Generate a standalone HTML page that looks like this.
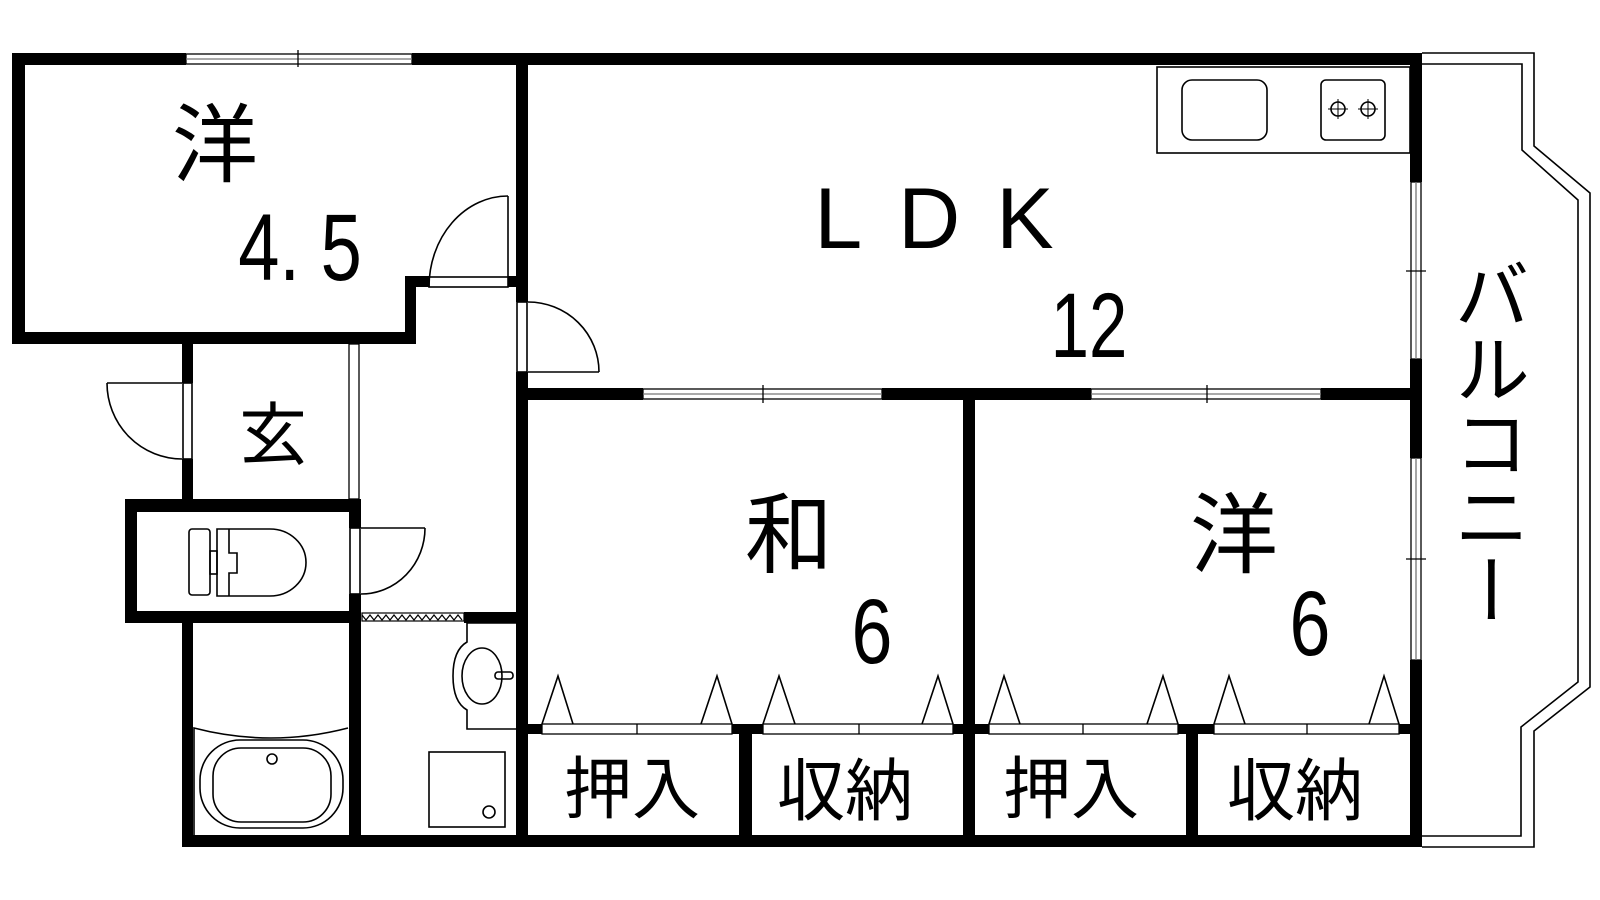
<!DOCTYPE html>
<html><head><meta charset="utf-8">
<style>
html,body{margin:0;padding:0;background:#fff;}
svg{display:block;}
text{font-family:"Liberation Sans","Noto Sans CJK JP",sans-serif;fill:#000;}
.j{font-family:"Noto Sans CJK JP","Liberation Sans",sans-serif;}
</style></head>
<body>
<svg width="1600" height="900" viewBox="0 0 1600 900" xmlns="http://www.w3.org/2000/svg">
<rect width="1600" height="900" fill="#fff"/>
<g fill="none" stroke="#000" stroke-width="1.6">
<polyline points="1422,53 1534,53 1534,146 1590,193 1590,687 1534,731 1534,847 1422,847"/>
<polyline points="1422,64 1522,64 1522,150 1578,200 1578,682 1521,727 1521,836 1422,836"/>
</g>
<g fill="#fff" stroke="#000" stroke-width="1.3">
<rect x="186" y="54" width="226" height="10"/>
<line x1="186" y1="59" x2="412" y2="59" stroke="#777"/>
<line x1="298" y1="50" x2="298" y2="67"/>
<rect x="643" y="389" width="239" height="10"/>
<line x1="643" y1="394" x2="882" y2="394" stroke="#777"/>
<line x1="763" y1="385" x2="763" y2="403"/>
<rect x="1091" y="389" width="230" height="10"/>
<line x1="1091" y1="394" x2="1321" y2="394" stroke="#777"/>
<line x1="1207" y1="385" x2="1207" y2="403"/>
<rect x="1411" y="182" width="10" height="177"/>
<line x1="1416" y1="182" x2="1416" y2="359" stroke="#777"/>
<line x1="1406" y1="271" x2="1426" y2="271"/>
<rect x="1411" y="458" width="10" height="202"/>
<line x1="1416" y1="458" x2="1416" y2="660" stroke="#777"/>
<line x1="1406" y1="559" x2="1426" y2="559"/>
<rect x="349" y="344" width="10" height="155"/>
</g>
<g fill="#000">
<rect x="12" y="53" width="174" height="12"/>
<rect x="412" y="53" width="1010" height="12"/>
<rect x="12" y="53" width="13" height="291"/>
<rect x="12" y="332" width="404" height="12"/>
<rect x="405" y="276" width="11" height="68"/>
<rect x="405" y="276" width="24" height="11"/>
<rect x="508" y="276" width="20" height="11"/>
<rect x="516" y="53" width="12" height="249"/>
<rect x="516" y="372" width="12" height="475"/>
<rect x="516" y="388" width="127" height="12"/>
<rect x="882" y="388" width="209" height="12"/>
<rect x="1321" y="388" width="101" height="12"/>
<rect x="963" y="388" width="12" height="459"/>
<rect x="1410" y="53" width="12" height="129"/>
<rect x="1410" y="359" width="12" height="99"/>
<rect x="1410" y="660" width="12" height="187"/>
<rect x="182" y="344" width="11" height="39"/>
<rect x="182" y="459" width="11" height="40"/>
<rect x="125" y="499" width="236" height="13"/>
<rect x="125" y="499" width="12" height="124"/>
<rect x="125" y="611" width="236" height="12"/>
<rect x="349" y="499" width="12" height="29"/>
<rect x="349" y="594" width="12" height="29"/>
<rect x="182" y="611" width="11" height="236"/>
<rect x="349" y="611" width="12" height="236"/>
<rect x="464" y="612" width="64" height="11"/>
<rect x="182" y="835" width="1240" height="12"/>
<rect x="528" y="724" width="14" height="10"/>
<rect x="732" y="724" width="31" height="10"/>
<rect x="953" y="724" width="36" height="10"/>
<rect x="1178" y="724" width="36" height="10"/>
<rect x="1399" y="724" width="11" height="10"/>
<rect x="739" y="724" width="13" height="123"/>
<rect x="1186" y="724" width="12" height="123"/>
</g>
<g fill="none" stroke="#000" stroke-width="1.6">
<rect x="429" y="277" width="79" height="10"/>
<line x1="508" y1="277" x2="508" y2="196"/>
<path d="M508,196 A79,91 0 0 0 429,287"/>
<rect x="517" y="302" width="10" height="70"/>
<line x1="528" y1="372" x2="599" y2="372"/>
<path d="M599,372 A71,70 0 0 0 528,302"/>
<rect x="183" y="383" width="9" height="76"/>
<line x1="182" y1="383" x2="107" y2="383"/>
<path d="M107,383 A75,76 0 0 0 182,459"/>
<rect x="350" y="528" width="10" height="66"/>
<line x1="361" y1="528" x2="425" y2="528"/>
<path d="M425,528 A64,66 0 0 1 361,594"/>
<rect x="189" y="529" width="21" height="66" rx="3"/>
<rect x="210" y="551" width="7" height="23"/>
<path d="M217,529 H270 A36,33.5 0 0 1 270,596 H217 Z"/>
<path d="M229,529 V553 H237 V573 H229 V596"/>
<rect x="362" y="613" width="102" height="8" stroke-width="1.2"/>
<polyline stroke-width="1.2" points="362,615 366,620 370,615 374,620 378,615 382,620 386,615 390,620 394,615 398,620 402,615 406,620 410,615 414,620 418,615 422,620 426,615 430,620 434,615 438,620 442,615 446,620 450,615 454,620 458,615 462,620"/>
<path d="M194,835 V728 Q271,748 348,728"/>
<rect x="200" y="740" width="143" height="88" rx="40"/>
<rect x="213" y="748" width="118" height="74" rx="28"/>
<circle cx="272" cy="759" r="5"/>
<path d="M516,623 H467 V642 Q453,650 453,676 Q453,702 467,710 V729 H516"/>
<ellipse cx="482" cy="676" rx="20" ry="28"/>
<rect x="495" y="672" width="18" height="7" rx="3"/>
<rect x="429" y="752" width="76" height="75"/>
<circle cx="489" cy="812" r="6"/>
<rect x="1157" y="67" width="253" height="86"/>
<rect x="1182" y="80" width="85" height="60" rx="10"/>
<rect x="1321" y="80" width="64" height="60" rx="5"/>
<circle cx="1338" cy="109" r="7"/>
<circle cx="1368" cy="109" r="7"/>
<path d="M1328,109h20M1338,99v20M1358,109h20M1368,99v20" stroke-width="1"/>
<rect x="542" y="724" width="190" height="10" stroke-width="1.3"/>
<line x1="637" y1="724" x2="637" y2="734" stroke-width="1.3"/>
<rect x="763" y="724" width="190" height="10" stroke-width="1.3"/>
<line x1="859" y1="724" x2="859" y2="734" stroke-width="1.3"/>
<rect x="989" y="724" width="189" height="10" stroke-width="1.3"/>
<line x1="1083" y1="724" x2="1083" y2="734" stroke-width="1.3"/>
<rect x="1214" y="724" width="185" height="10" stroke-width="1.3"/>
<line x1="1307" y1="724" x2="1307" y2="734" stroke-width="1.3"/>
<polyline points="542,724 558,676 573,724"/>
<polyline points="701,724 717,676 732,724"/>
<polyline points="763,724 779,676 795,724"/>
<polyline points="922,724 938,676 953,724"/>
<polyline points="989,724 1004,676 1020,724"/>
<polyline points="1147,724 1163,676 1178,724"/>
<polyline points="1214,724 1229,676 1245,724"/>
<polyline points="1369,724 1384,676 1399,724"/>
</g>
<g class="j" text-anchor="middle">
<text class="j" x="215" y="175" font-size="86">洋</text>
<text x="0" y="0" font-size="95" transform="translate(300,280) scale(0.78,1)">4. 5</text>
<text x="952" y="248" font-size="86" letter-spacing="36">LDK</text>
<text x="0" y="0" font-size="92" transform="translate(1089,357) scale(0.75,1)">12</text>
<text class="j" x="273" y="459" font-size="68">玄</text>
<text class="j" x="789" y="566" font-size="88">和</text>
<text x="0" y="0" font-size="92" transform="translate(872,663) scale(0.8,1)">6</text>
<text class="j" x="1234" y="566" font-size="88">洋</text>
<text x="0" y="0" font-size="92" transform="translate(1310,655) scale(0.8,1)">6</text>
<text class="j" x="632" y="813" font-size="68">押入</text>
<text class="j" x="845" y="815" font-size="68">収納</text>
<text class="j" x="1071" y="813" font-size="68">押入</text>
<text class="j" x="1295" y="815" font-size="68">収納</text>
</g>
</svg>
<div style="position:absolute;left:1452px;top:256px;writing-mode:vertical-rl;font-family:'Noto Sans CJK JP',sans-serif;font-size:76px;line-height:80px;letter-spacing:-2px;">バルコニー</div>
</body></html>
